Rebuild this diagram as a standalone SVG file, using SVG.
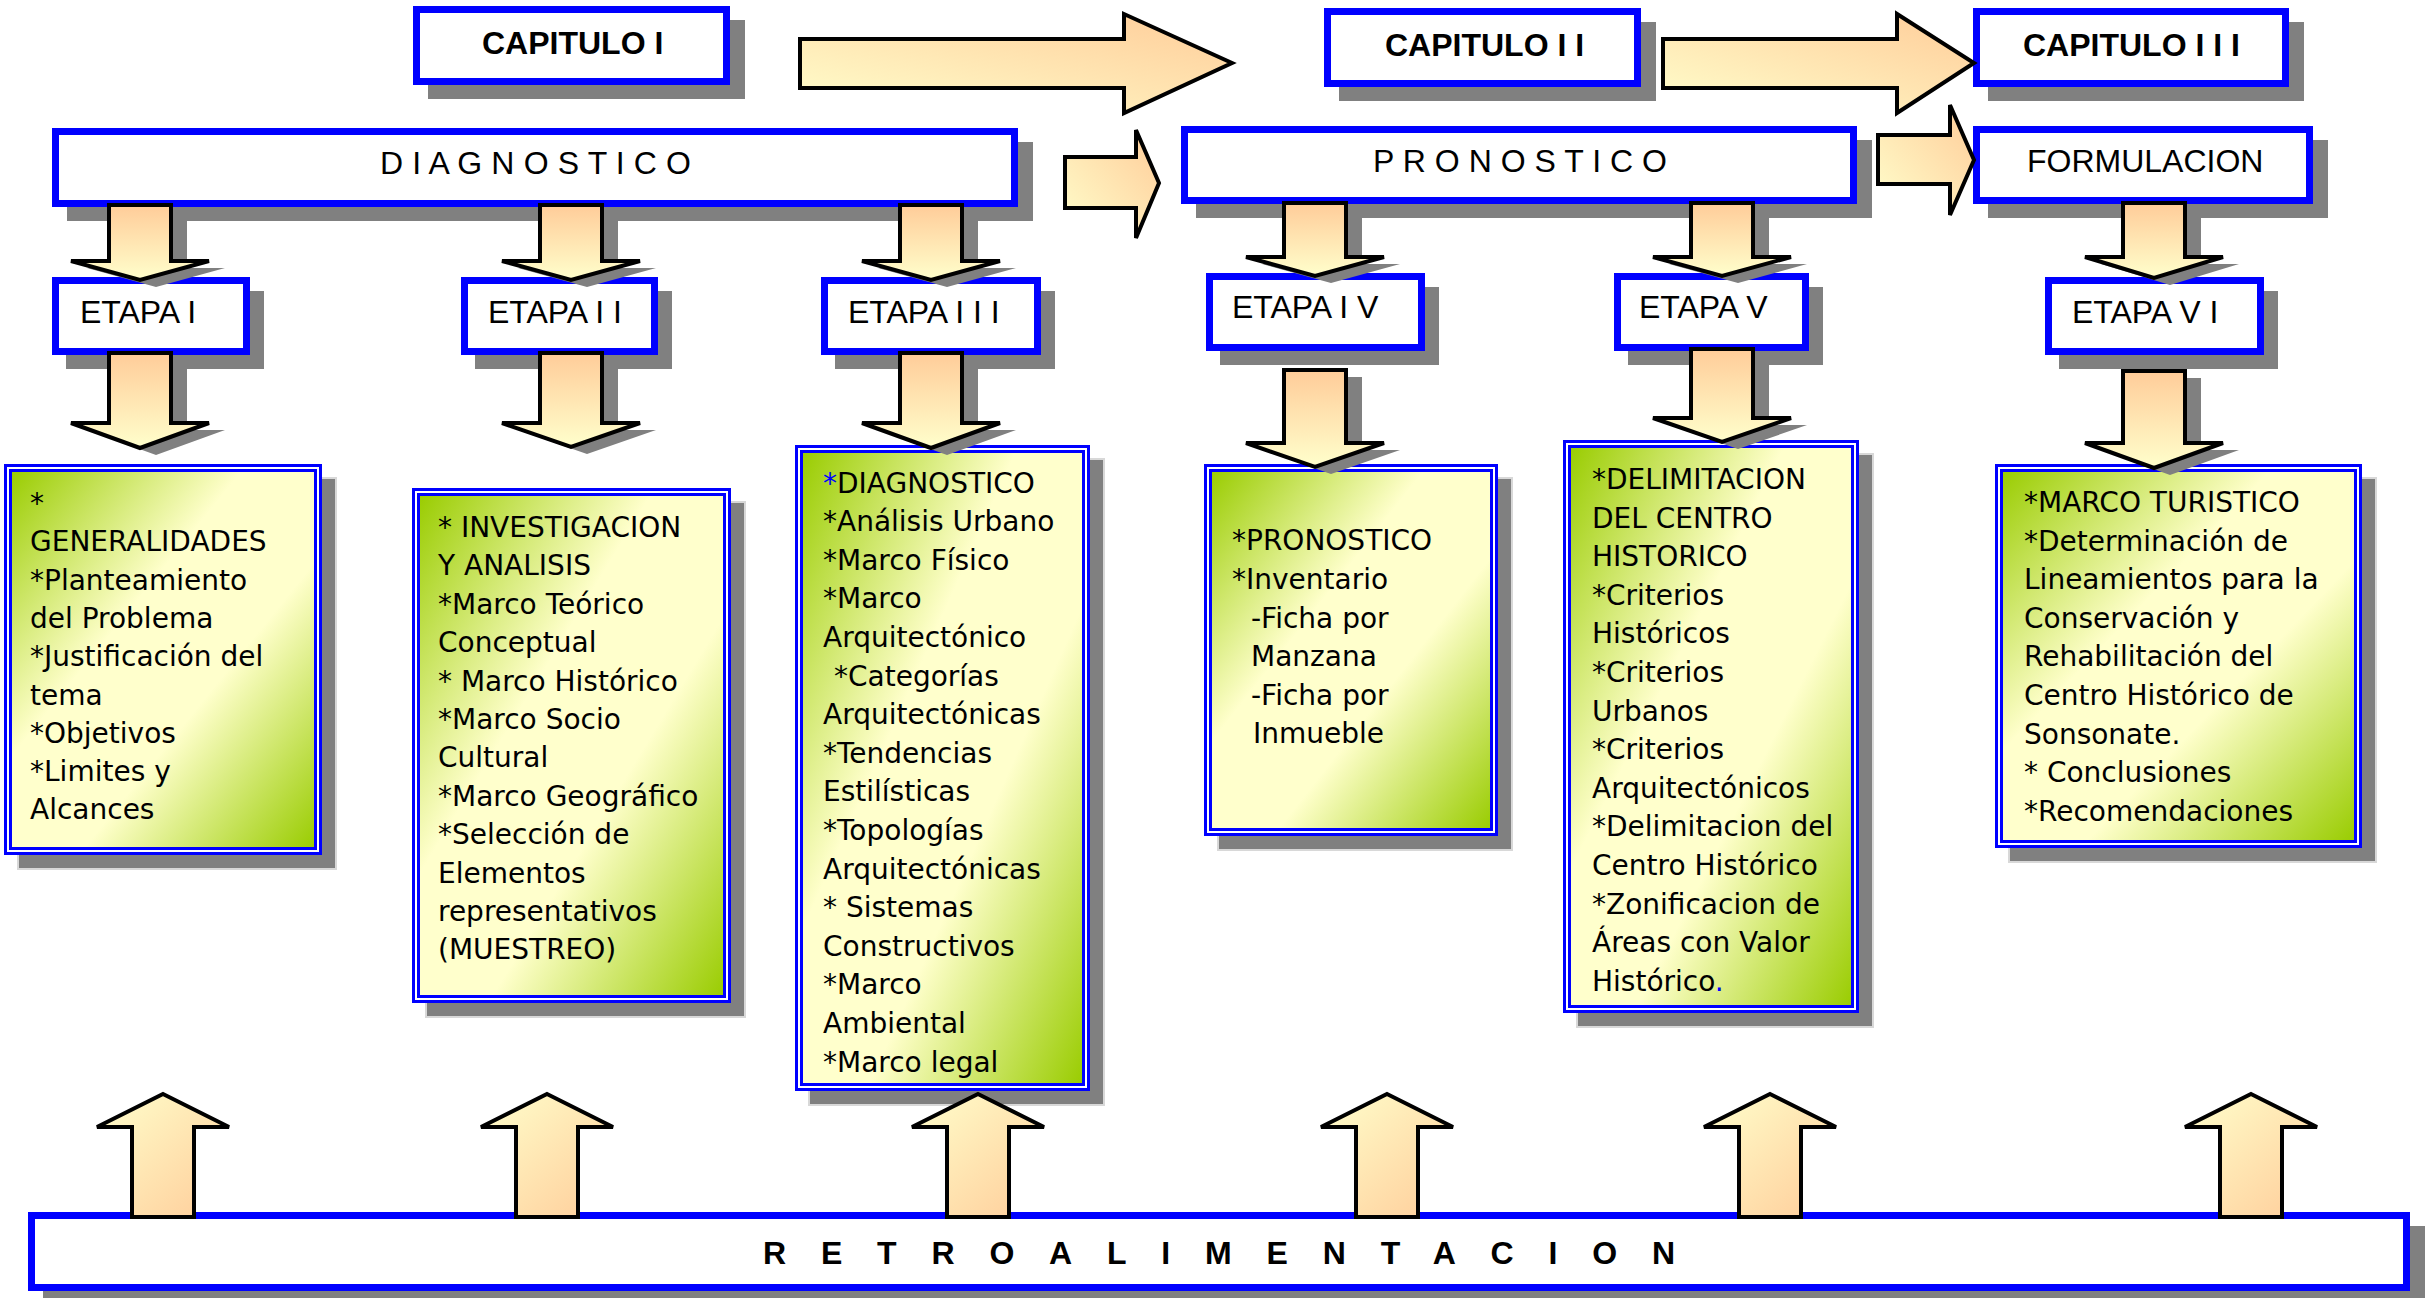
<svg xmlns="http://www.w3.org/2000/svg" width="2432" height="1298" viewBox="0 0 2432 1298">
<defs>
<linearGradient id="gGreen" x1="0" y1="0" x2="1" y2="1">
<stop offset="0" stop-color="#99CC00"/>
<stop offset="0.38" stop-color="#FFFFCC"/>
<stop offset="0.62" stop-color="#FFFFCC"/>
<stop offset="1" stop-color="#99CC00"/>
</linearGradient>
<linearGradient id="gDown" x1="0" y1="0" x2="0" y2="1">
<stop offset="0" stop-color="#FFCC99"/>
<stop offset="1" stop-color="#FFFFCC"/>
</linearGradient>
<linearGradient id="gUp" x1="0" y1="0" x2="1" y2="1">
<stop offset="0" stop-color="#FFFFCC"/>
<stop offset="1" stop-color="#FFCC99"/>
</linearGradient>
<linearGradient id="gRight" x1="0" y1="1" x2="1" y2="0">
<stop offset="0" stop-color="#FFFFCC"/>
<stop offset="1" stop-color="#FFCC99"/>
</linearGradient>
<style>
.sh{fill:#808080}
.gsh{fill:#808080;stroke:#d8d8d8;stroke-width:2}
.box{fill:#fff;stroke:#0000FF;stroke-width:7}
.gout{fill:#fff;stroke:#0000FF;stroke-width:3}
.gin{fill:url(#gGreen);stroke:#0000FF;stroke-width:3}
.lbl{font-family:"Liberation Sans",Arial,sans-serif;font-size:32px;fill:#000}
.bold{font-weight:bold}
.txt{font-family:"DejaVu Sans",Verdana,sans-serif;font-size:28px;fill:#000}
.blue{fill:#0000FF}
.ad{fill:url(#gDown);stroke:#000;stroke-width:4;stroke-linejoin:miter}
.au{fill:url(#gUp);stroke:#000;stroke-width:4;stroke-linejoin:miter}
.ar{fill:url(#gRight);stroke:#000;stroke-width:4;stroke-linejoin:miter}
.ash{fill:#808080}
</style>
</defs>

<g id="nodes">
<g id="capitulo1">
<rect class="sh" x="428" y="20" width="317" height="79"/>
<rect class="box" x="416.5" y="9.5" width="310" height="72"/>
<text class="lbl bold" x="482" y="54">CAPITULO I</text>
</g>
<g id="capitulo2">
<rect class="sh" x="1339" y="22" width="317" height="79"/>
<rect class="box" x="1327.5" y="11.5" width="310" height="72"/>
<text class="lbl bold" x="1385" y="56">CAPITULO I I</text>
</g>
<g id="capitulo3">
<rect class="sh" x="1988" y="22" width="316" height="79"/>
<rect class="box" x="1976.5" y="11.5" width="309" height="72"/>
<text class="lbl bold" x="2023" y="56">CAPITULO I I I</text>
</g>
<g id="diagnostico">
<rect class="sh" x="67" y="142" width="966" height="79"/>
<rect class="box" x="55.5" y="131.5" width="959" height="72"/>
<text class="lbl" x="380" y="174" textLength="311" lengthAdjust="spacing">D I A G N O S T I C O</text>
</g>
<g id="pronostico">
<rect class="sh" x="1196" y="140" width="676" height="78"/>
<rect class="box" x="1184.5" y="129.5" width="669" height="71"/>
<text class="lbl" x="1373" y="172" textLength="294" lengthAdjust="spacing">P R O N O S T I C O</text>
</g>
<g id="formulacion">
<rect class="sh" x="1988" y="140" width="340" height="78"/>
<rect class="box" x="1976.5" y="129.5" width="333" height="71"/>
<text class="lbl" x="2027" y="172">FORMULACION</text>
</g>
<g id="etapa1">
<rect class="sh" x="66" y="291" width="198" height="78"/>
<rect class="box" x="55.5" y="280.5" width="191" height="71"/>
<text class="lbl" x="80" y="323">ETAPA I</text>
</g>
<g id="etapa2">
<rect class="sh" x="475" y="291" width="197" height="78"/>
<rect class="box" x="464.5" y="280.5" width="190" height="71"/>
<text class="lbl" x="488" y="323">ETAPA I I</text>
</g>
<g id="etapa3">
<rect class="sh" x="835" y="291" width="220" height="78"/>
<rect class="box" x="824.5" y="280.5" width="213" height="71"/>
<text class="lbl" x="848" y="323">ETAPA I I I</text>
</g>
<g id="etapa4">
<rect class="sh" x="1220" y="287" width="219" height="78"/>
<rect class="box" x="1209.5" y="276.5" width="212" height="71"/>
<text class="lbl" x="1232" y="318">ETAPA I V</text>
</g>
<g id="etapa5">
<rect class="sh" x="1628" y="287" width="195" height="78"/>
<rect class="box" x="1617.5" y="276.5" width="188" height="71"/>
<text class="lbl" x="1639" y="318">ETAPA V</text>
</g>
<g id="etapa6">
<rect class="sh" x="2059" y="291" width="219" height="78"/>
<rect class="box" x="2048.5" y="280.5" width="212" height="71"/>
<text class="lbl" x="2072" y="323">ETAPA V I</text>
</g>

<g id="box1">
<rect class="gsh" x="18" y="478" width="318" height="391"/>
<rect class="gout" x="5.5" y="465.5" width="315" height="388"/>
<rect class="gin" x="10.5" y="470.5" width="305" height="378"/>
<text class="txt"><tspan x="30" y="513">*</tspan><tspan x="30" y="551.3">GENERALIDADES</tspan><tspan x="30" y="589.6">*Planteamiento</tspan><tspan x="30" y="627.9">del Problema</tspan><tspan x="30" y="666.2">*Justificación del</tspan><tspan x="30" y="704.5">tema</tspan><tspan x="30" y="742.8">*Objetivos</tspan><tspan x="30" y="781.1">*Limites y</tspan><tspan x="30" y="819.4">Alcances</tspan></text>
</g>
<g id="box2">
<rect class="gsh" x="426" y="502" width="319" height="515"/>
<rect class="gout" x="413.5" y="489.5" width="316" height="512"/>
<rect class="gin" x="418.5" y="494.5" width="306" height="502"/>
<text class="txt"><tspan x="438" y="537">* INVESTIGACION</tspan><tspan x="438" y="575.4">Y ANALISIS</tspan><tspan x="438" y="613.8">*Marco Teórico</tspan><tspan x="438" y="652.2">Conceptual</tspan><tspan x="438" y="690.6">* Marco Histórico</tspan><tspan x="438" y="729">*Marco Socio</tspan><tspan x="438" y="767.4">Cultural</tspan><tspan x="438" y="805.8">*Marco Geográfico</tspan><tspan x="438" y="844.2">*Selección de</tspan><tspan x="438" y="882.6">Elementos</tspan><tspan x="438" y="921">representativos</tspan><tspan x="438" y="959.4">(MUESTREO)</tspan></text>
</g>
<g id="box3">
<rect class="gsh" x="809" y="459" width="295" height="646"/>
<rect class="gout" x="796.5" y="446.5" width="292" height="643"/>
<rect class="gin" x="801.5" y="451.5" width="282" height="633"/>
<text class="txt"><tspan x="823" y="492.6"><tspan class="blue">*</tspan>DIAGNOSTICO</tspan><tspan x="823" y="531.2">*Análisis Urbano</tspan><tspan x="823" y="569.8">*Marco Físico</tspan><tspan x="823" y="608.4">*Marco</tspan><tspan x="823" y="647">Arquitectónico</tspan><tspan x="834" y="685.6">*Categorías</tspan><tspan x="823" y="724.2">Arquitectónicas</tspan><tspan x="823" y="762.8">*Tendencias</tspan><tspan x="823" y="801.4">Estilísticas</tspan><tspan x="823" y="840">*Topologías</tspan><tspan x="823" y="878.6">Arquitectónicas</tspan><tspan x="823" y="917.2">* Sistemas</tspan><tspan x="823" y="955.8">Constructivos</tspan><tspan x="823" y="994.4">*Marco</tspan><tspan x="823" y="1033">Ambiental</tspan><tspan x="823" y="1071.6">*Marco legal</tspan></text>
</g>
<g id="box4">
<rect class="gsh" x="1218" y="478" width="294" height="372"/>
<rect class="gout" x="1205.5" y="465.5" width="291" height="369"/>
<rect class="gin" x="1210.5" y="470.5" width="281" height="359"/>
<text class="txt"><tspan x="1232" y="550">*PRONOSTICO</tspan><tspan x="1232" y="589">*Inventario</tspan><tspan x="1251" y="628">-Ficha por</tspan><tspan x="1251" y="666">Manzana</tspan><tspan x="1251" y="705">-Ficha por</tspan><tspan x="1253" y="743">Inmueble</tspan></text>
</g>
<g id="box5">
<rect class="gsh" x="1577" y="454" width="296" height="573"/>
<rect class="gout" x="1564.5" y="441.5" width="293" height="570"/>
<rect class="gin" x="1569.5" y="446.5" width="283" height="560"/>
<text class="txt"><tspan x="1592" y="489">*DELIMITACION</tspan><tspan x="1592" y="527.6">DEL CENTRO</tspan><tspan x="1592" y="566.2">HISTORICO</tspan><tspan x="1592" y="604.8">*Criterios</tspan><tspan x="1592" y="643.4">Históricos</tspan><tspan x="1592" y="682">*Criterios</tspan><tspan x="1592" y="720.6">Urbanos</tspan><tspan x="1592" y="759.2">*Criterios</tspan><tspan x="1592" y="797.8">Arquitectónicos</tspan><tspan x="1592" y="836.4">*Delimitacion del</tspan><tspan x="1592" y="875">Centro Histórico</tspan><tspan x="1592" y="913.6">*Zonificacion de</tspan><tspan x="1592" y="952.2">Áreas con Valor</tspan><tspan x="1592" y="990.8">Histórico<tspan class="blue">.</tspan></tspan></text>
</g>
<g id="box6">
<rect class="gsh" x="2009" y="478" width="367" height="384"/>
<rect class="gout" x="1996.5" y="465.5" width="364" height="381"/>
<rect class="gin" x="2001.5" y="470.5" width="354" height="371"/>
<text class="txt"><tspan x="2024" y="512">*MARCO TURISTICO</tspan><tspan x="2024" y="550.6">*Determinación de</tspan><tspan x="2024" y="589.2">Lineamientos para la</tspan><tspan x="2024" y="627.8">Conservación y</tspan><tspan x="2024" y="666.4">Rehabilitación del</tspan><tspan x="2024" y="705">Centro Histórico de</tspan><tspan x="2024" y="743.6">Sonsonate.</tspan><tspan x="2024" y="782.2">* Conclusiones</tspan><tspan x="2024" y="820.8">*Recomendaciones</tspan></text>
</g>
<g id="retroalimentacion">
<rect class="sh" x="43" y="1226" width="2382" height="79"/>
<rect class="box" x="31.5" y="1215.5" width="2375" height="72"/>
<text class="lbl bold" x="763" y="1264" font-size="33" textLength="912" lengthAdjust="spacing">RETROALIMENTACION</text>
</g>
</g>

<g id="connectors">
<path class="ar" d="M800 39H1124V14L1232 63L1124 113V88H800Z"/>
<path class="ar" d="M1663 39H1897V14L1974 63L1897 113V88H1663Z"/>
<path class="ar" d="M1065 157H1136V130L1159 183L1136 238V208H1065Z"/>
<path class="ar" d="M1878 135H1950V105L1974 160L1950 215V184H1878Z"/>

<g id="down-shadows">
<path class="ash" d="M125 212H187V268H225L156 287L87 268H125Z"/>
<path class="ash" d="M556 212H618V268H656L587 287L518 268H556Z"/>
<path class="ash" d="M916 212H978V268H1016L947 287L878 268H916Z"/>
<path class="ash" d="M1300 210H1362V264H1400L1331 283L1262 264H1300Z"/>
<path class="ash" d="M1707 210H1769V264H1807L1738 283L1669 264H1707Z"/>
<path class="ash" d="M2139 210H2201V264H2239L2170 285L2101 264H2139Z"/>
<path class="ash" d="M125 360H187V430H225L156 455L87 430H125Z"/>
<path class="ash" d="M556 360H618V430H656L587 454L518 430H556Z"/>
<path class="ash" d="M916 360H978V430H1016L947 455L878 430H916Z"/>
<path class="ash" d="M1300 377H1362V450H1400L1331 474L1262 450H1300Z"/>
<path class="ash" d="M1707 356H1769V425H1807L1738 449L1669 425H1707Z"/>
<path class="ash" d="M2139 378H2201V450H2239L2170 475L2101 450H2139Z"/>
</g>
<path class="ad" d="M109 205H171V261H209L140 280L71 261H109Z"/>
<path class="ad" d="M540 205H602V261H640L571 280L502 261H540Z"/>
<path class="ad" d="M900 205H962V261H1000L931 280L862 261H900Z"/>
<path class="ad" d="M1284 203H1346V257H1384L1315 276L1246 257H1284Z"/>
<path class="ad" d="M1691 203H1753V257H1791L1722 276L1653 257H1691Z"/>
<path class="ad" d="M2123 203H2185V257H2223L2154 278L2085 257H2123Z"/>
<path class="ad" d="M109 353H171V423H209L140 448L71 423H109Z"/>
<path class="ad" d="M540 353H602V423H640L571 447L502 423H540Z"/>
<path class="ad" d="M900 353H962V423H1000L931 448L862 423H900Z"/>
<path class="ad" d="M1284 370H1346V443H1384L1315 467L1246 443H1284Z"/>
<path class="ad" d="M1691 349H1753V418H1791L1722 442L1653 418H1691Z"/>
<path class="ad" d="M2123 371H2185V443H2223L2154 468L2085 443H2123Z"/>

<path class="au" d="M163 1094L229 1127H194V1217H132V1127H97Z"/>
<path class="au" d="M547 1094L613 1127H578V1217H516V1127H481Z"/>
<path class="au" d="M978 1094L1044 1127H1009V1217H947V1127H912Z"/>
<path class="au" d="M1387 1094L1453 1127H1418V1217H1356V1127H1321Z"/>
<path class="au" d="M1770 1094L1836 1127H1801V1217H1739V1127H1704Z"/>
<path class="au" d="M2251 1094L2317 1127H2282V1217H2220V1127H2185Z"/>
</g>
</svg>
